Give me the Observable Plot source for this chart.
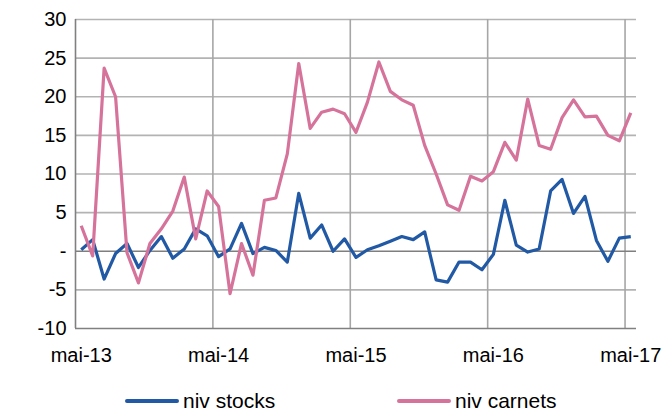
<!DOCTYPE html>
<html>
<head>
<meta charset="utf-8">
<script src="https://cdn.jsdelivr.net/npm/d3@7"></script>
<script src="https://cdn.jsdelivr.net/npm/@observablehq/plot@0.6"></script>
<style>
  body { margin: 0; background: #fff; font-family: "Liberation Sans", Arial, sans-serif; overflow: hidden; }
  #legend { position: relative; width: 665px; height: 42px; font-size: 21px; line-height: 22px; color: #000; }
  .item { position: absolute; top: 20px; height: 22px; display: flex; align-items: center; }
  .sw { width: 54px; height: 3.5px; border-radius: 2px; margin-right: 4px; }
</style>
</head>
<body>
<div id="chart"></div>
<div id="legend"></div>
<script>
// monthly, mai-13 .. mai-17 (49 months)
const tickLabels = ["mai-13", "mai-14", "mai-15", "mai-16", "mai-17"];
const tickIndex = [0, 12, 24, 36, 48];
const stocks = [
  0.2, 1.5, -3.6, -0.3, 1.0, -2.1, 0.1, 1.9, -0.9, 0.3, 2.9, 2.0,
  -0.7, 0.3, 3.6, -0.3, 0.5, 0.1, -1.4, 7.5, 1.7, 3.4, 0.0, 1.6,
  -0.8, 0.2, 0.7, 1.3, 1.9, 1.5, 2.5, -3.7, -4.0, -1.4, -1.4, -2.4,
  -0.4, 6.6, 0.8, -0.1, 0.3, 7.8, 9.3, 4.9, 7.1, 1.4, -1.3, 1.7, 1.9
];
const carnets = [
  3.3, -0.6, 23.7, 20.0, -0.2, -4.1, 1.0, 2.9, 5.2, 9.6, 1.6, 7.8,
  5.8, -5.5, 1.0, -3.1, 6.6, 6.9, 12.6, 24.3, 15.9, 18.0, 18.4, 17.8,
  15.4, 19.3, 24.5, 20.7, 19.6, 18.9, 13.7, 10.0, 6.0, 5.3, 9.7, 9.1,
  10.3, 14.1, 11.8, 19.7, 13.7, 13.2, 17.3, 19.6, 17.4, 17.5, 15.0, 14.3, 17.9
];
const seriesNames = ["niv stocks", "niv carnets"];
const colors = ["#2159a5", "#d6739b"];
const yTicks = [-10, -5, 0, 5, 10, 15, 20, 25, 30];
const yearBounds = [-0.5, 11.5, 23.5, 35.5, 47.5];

const rows = [];
stocks.forEach((v, i) => rows.push({i, v, s: seriesNames[0]}));
carnets.forEach((v, i) => rows.push({i, v, s: seriesNames[1]}));

const plot = Plot.plot({
  width: 665,
  height: 370,
  marginLeft: 75,
  marginRight: 29,
  marginTop: 19,
  marginBottom: 42,
  style: {fontFamily: '"Liberation Sans", Arial, sans-serif', fontSize: "20px", color: "#000", background: "#fff"},
  x: {domain: [-0.5, 48.5]},
  y: {domain: [-10, 30]},
  color: {domain: seriesNames, range: colors},
  marks: [
    Plot.ruleY(yTicks.filter(d => d !== 0 && d !== -10), {stroke: "#b3b3b3", strokeWidth: 1.6}),
    Plot.ruleX(yearBounds.slice(1), {stroke: "#a6a6a6", strokeWidth: 1.6}),
    Plot.ruleY([0], {stroke: "#7f7f7f", strokeWidth: 1.6}),
    Plot.ruleY([-10], {stroke: "#808080", strokeWidth: 1.6}),
    Plot.ruleX([-0.5], {stroke: "#808080", strokeWidth: 1.6}),
    Plot.axisY({ticks: yTicks, tickSize: 0, tickPadding: 9, label: null,
      tickFormat: d => d === 0 ? "-" : String(d), fontSize: 20}),
    Plot.axisX({ticks: tickIndex, tickSize: 0, tickPadding: 19, label: null,
      tickFormat: d => tickLabels[tickIndex.indexOf(d)], fontSize: 20}),
    Plot.line(rows, {x: "i", y: "v", z: "s", stroke: "s", strokeWidth: 3.2, strokeLinejoin: "round", strokeLinecap: "butt"})
  ]
});
document.getElementById("chart").appendChild(plot);

const leg = document.getElementById("legend");
const lefts = [125, 397];
seriesNames.forEach((n, k) => {
  const it = document.createElement("div");
  it.className = "item";
  it.style.left = lefts[k] + "px";
  it.innerHTML = `<span class="sw" style="background:${colors[k]}"></span><span>${n}</span>`;
  leg.appendChild(it);
});
</script>
</body>
</html>
